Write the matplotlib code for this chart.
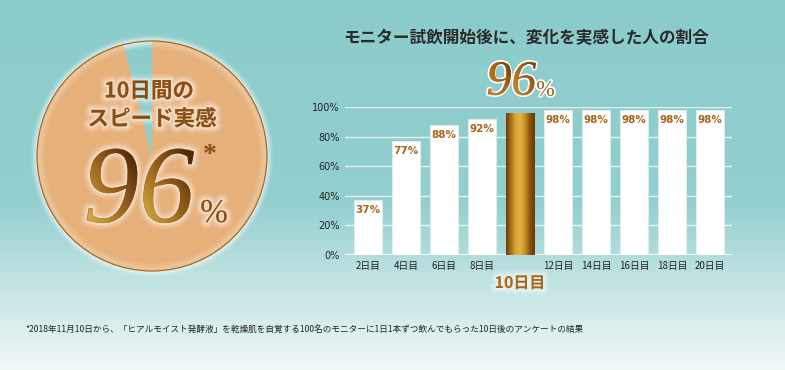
import numpy as np
import matplotlib
matplotlib.use("Agg")
import matplotlib.pyplot as plt
import matplotlib.patheffects as pe
from matplotlib.colors import LinearSegmentedColormap
from matplotlib.patches import Circle, PathPatch
from matplotlib.textpath import TextPath
from matplotlib.transforms import Affine2D

plt.rcParams['font.family'] = ['Noto Sans CJK JP', 'DejaVu Sans']

# ---------------- data ----------------
days = ["2日目", "4日目", "6日目", "8日目", "10日目", "12日目", "14日目", "16日目", "18日目", "20日目"]
rates = [37, 77, 88, 92, 96, 98, 98, 98, 98, 98]
highlight_index = 4
yticks = [0, 20, 40, 60, 80, 100]
pie_values = [96, 4]
title = "モニター試飲開始後に、変化を実感した人の割合"
circle_line1 = "10日間の"
circle_line2 = "スピード実感"
footnote = "*2018年11月10日から、「ヒアルモイスト発酵液」を乾燥肌を自覚する100名のモニターに1日1本ずつ飲んでもらった10日後のアンケートの結果"

W, H = 785, 370
fig = plt.figure(figsize=(W / 100, H / 100), dpi=100)


def fx(x):
    return x / W


def fy(y):
    return 1 - y / H


BROWN = "#8A4D12"
GOLD = "#A8671C"

# ---------------- background gradient ----------------
bg = fig.add_axes([0, 0, 1, 1], zorder=0)
ys = np.array([0, 200, 280, 370])
cols = np.array([[139, 204, 203], [146, 207, 206], [192, 227, 226], [240, 249, 248]]) / 255
yy = np.arange(H)
grad = np.stack([np.interp(yy, ys, cols[:, k]) for k in range(3)], axis=1)
bg.imshow(grad[:, None, :], aspect="auto", extent=(0, W, H, 0))
bg.set_xlim(0, W)
bg.set_ylim(H, 0)
bg.axis("off")

# ---------------- circle (pie) ----------------
cx, cy, r = 152, 156, 115
pax = fig.add_axes([fx(cx - r), fy(cy + r), 2 * r / W, 2 * r / H], zorder=1)
for lw, a in [(9, 0.12), (6, 0.18), (3.5, 0.28)]:
    pax.add_patch(Circle((0, 0), 1.0, fill=False, edgecolor="white", lw=lw, alpha=a, clip_on=False))
wedges, _ = pax.pie(pie_values, startangle=90, counterclock=False, radius=1.0,
                    colors=["#E6B07A", (0, 0, 0, 0)], wedgeprops=dict(linewidth=0))
for w in wedges:
    w.set_clip_on(False)
for lw, a in [(8, 0.10), (4, 0.15)]:
    pax.add_patch(Circle((0, 0), 0.985, fill=False, edgecolor="white", lw=lw, alpha=a, clip_on=False))
pax.add_patch(Circle((0, 0), 1.0, fill=False, edgecolor="#A56A24", lw=0.9, clip_on=False))
pax.set_xlim(-1, 1)
pax.set_ylim(-1, 1)
pax.set_aspect("equal")
pax.axis("off")

glow = [pe.Stroke(linewidth=9, foreground="white", alpha=0.12),
        pe.Stroke(linewidth=6, foreground="white", alpha=0.2),
        pe.Stroke(linewidth=3, foreground="white", alpha=0.35),
        pe.Normal()]

fig.text(fx(149), fy(91), circle_line1, ha="center", va="center", fontsize=15.5,
         fontweight="bold", color=BROWN, path_effects=glow, zorder=5)
fig.text(fx(152), fy(119), circle_line2, ha="center", va="center", fontsize=15.5,
         fontweight="bold", color=BROWN, path_effects=glow, zorder=5)
big_anchor = (139, H - 222)  # display px (x, y baseline)
big96 = fig.text(big_anchor[0] / W, big_anchor[1] / H, f"{pie_values[0]}", ha="center",
                 va="baseline", fontsize=80, family="Liberation Serif", style="italic",
                 color="#8A5A16", path_effects=glow, zorder=5)
fig.text(fx(210), fy(156), "*", ha="center", va="center", fontsize=20,
         family="Liberation Serif", fontweight="bold", color=BROWN, zorder=5)
fig.text(fx(214), fy(222), "%", ha="center", va="baseline", fontsize=24,
         family="Liberation Serif", color=BROWN, path_effects=glow, zorder=5)

# ---------------- bar chart ----------------
ax_left, ax_right, ax_top, ax_bot = 345, 732, 107, 255
ax = fig.add_axes([fx(ax_left), fy(ax_bot), (ax_right - ax_left) / W, (ax_bot - ax_top) / H], zorder=2)
ax.patch.set_visible(False)
x = np.arange(len(days))
for s in ax.spines.values():
    s.set_visible(False)
ax.set_yticks(yticks)
ax.set_yticklabels([f"{v}%" for v in yticks], fontsize=7, color="#222222", family="DejaVu Sans")
ax.yaxis.grid(True, color="white", alpha=0.75, lw=1.0)
ax.set_axisbelow(True)
ax.axhline(0, color="white", lw=1.3, zorder=1)
ax.tick_params(axis="both", length=0)
ax.tick_params(axis="y", pad=4)
ax.tick_params(axis="x", pad=4)
ax.set_xticks(x)
ax.set_xticklabels([d if i != highlight_index else "" for i, d in enumerate(days)],
                   fontsize=7, color="#222222")

bars = ax.bar(x, rates, width=0.74, color="white", edgecolor="#E2F0EF", lw=0.6, zorder=3)
hb = bars[highlight_index]
hb.set_edgecolor("#C9A050")
gcmap = LinearSegmentedColormap.from_list(
    "gold", ["#6E3C06", "#A8701C", "#D9A638", "#E2B444", "#C68E28", "#8A5410", "#6A3805"])
gimg = np.linspace(0, 1, 64)[None, :]
im = ax.imshow(gimg, cmap=gcmap, aspect="auto", zorder=4,
               extent=(hb.get_x(), hb.get_x() + hb.get_width(), 0, hb.get_height()))
im.set_clip_path(hb)
ax.set_xlim(-0.605, 9.58)
ax.set_ylim(0, 100)

for i, v in enumerate(rates):
    if i == highlight_index:
        continue
    ax.annotate(f"{v}%", (x[i], v), xytext=(0, -7.3), textcoords="offset points",
                ha="center", va="center", fontsize=7.5, fontweight="bold",
                color=GOLD, family="DejaVu Sans", zorder=5)

white_edge = [pe.withStroke(linewidth=2.5, foreground="white")]
small_off = (-6.3, 13)
bar96 = ax.annotate(f"{rates[highlight_index]}", (x[highlight_index], rates[highlight_index]),
                    xytext=small_off, textcoords="offset points", ha="center",
                    va="baseline", fontsize=36, family="Liberation Serif", style="italic",
                    color="#A66A1C", path_effects=white_edge, annotation_clip=False, zorder=6)
ax.annotate("%", (x[highlight_index], rates[highlight_index]),
            xytext=(18.4, 12.4), textcoords="offset points", ha="center", va="baseline",
            fontsize=16, family="Liberation Serif", color="#9A5E16",
            path_effects=white_edge, annotation_clip=False, zorder=6)
ax.text(x[highlight_index], -28 / (ax_bot - ax_top), days[highlight_index],
        transform=ax.get_xaxis_transform(), ha="center", va="center", fontsize=11.5,
        fontweight="bold", color=GOLD, path_effects=glow, clip_on=False, zorder=6)

# ---------------- title & footnote ----------------
fig.text(fx(526), fy(38), title, ha="center", va="center", fontsize=12, fontweight="bold",
         color="#2A2A2A", zorder=5)
fig.text(fx(25), fy(329), footnote, ha="left", va="center", fontsize=6.2, color="#222222", zorder=5)

# ---------------- gradient fill over the italic numerals ----------------
fig.canvas.draw()
ov = fig.add_axes([0, 0, 1, 1], zorder=8)
ov.patch.set_visible(False)
ov.axis("off")


def measured_ink(txt, anchor):
    """Render the text alone at the same display anchor and measure its ink box."""
    f2 = plt.figure(figsize=(W / 100, H / 100), dpi=100)
    f2.text(anchor[0] / W, anchor[1] / H, txt.get_text(), ha="center", va="baseline",
            fontproperties=txt.get_fontproperties(), color="black")
    f2.canvas.draw()
    buf = np.asarray(f2.canvas.buffer_rgba())[..., 0]
    plt.close(f2)
    rows, colsn = np.where(buf < 128)
    return colsn.min(), colsn.max() + 1, H - (rows.max() + 1), H - rows.min()


def gradient_overlay(txt, anchor, c_light, c_mid, c_dark):
    ix0, ix1, iy0, iy1 = measured_ink(txt, anchor)
    fp = txt.get_fontproperties()
    size_px = fp.get_size_in_points() * fig.dpi / 72
    tp = TextPath((0, 0), txt.get_text(), size=size_px, prop=fp)
    bb = tp.get_extents()
    sx = (ix1 - ix0) / bb.width
    sy = (iy1 - iy0) / bb.height
    tr = Affine2D().translate(-bb.x0, -bb.y0).scale(sx, sy).translate(ix0, iy0)
    path = tr.transform_path(tp)
    pb = path.get_extents()
    patch = PathPatch(path, facecolor="none", edgecolor="none", transform=ov.transData)
    ov.add_patch(patch)
    nx, ny = int(pb.width) + 4, int(pb.height) + 4
    gx = np.linspace(0, 1, nx)[None, :]
    gy = np.linspace(0, 1, ny)[:, None]
    n = len(txt.get_text())
    u = (gx * n) % 1.0
    t = np.clip(0.7 * u + 0.55 * gy - 0.12, 0, 1)
    cl, cm, cd = (np.array(c) / 255 for c in (c_light, c_mid, c_dark))
    t3 = t[..., None]
    rgb = np.where(t3 < 0.5, cl + (cm - cl) * (t3 / 0.5), cm + (cd - cm) * ((t3 - 0.5) / 0.5))
    gim = ov.imshow(rgb, origin="lower", aspect="auto", interpolation="bilinear",
                    extent=(pb.x0 - 2, pb.x1 + 2, pb.y0 - 2, pb.y1 + 2))
    gim.set_clip_path(patch)


gradient_overlay(big96, big_anchor, (206, 166, 62), (150, 95, 25), (78, 42, 8))
pt = ax.transData.transform((x[highlight_index], rates[highlight_index]))
bar_anchor = (pt[0] + small_off[0] * fig.dpi / 72, pt[1] + small_off[1] * fig.dpi / 72)
gradient_overlay(bar96, bar_anchor, (196, 138, 48), (166, 104, 26), (120, 68, 12))
ov.set_xlim(0, W)
ov.set_ylim(0, H)

fig.savefig("out.png", dpi=100)
